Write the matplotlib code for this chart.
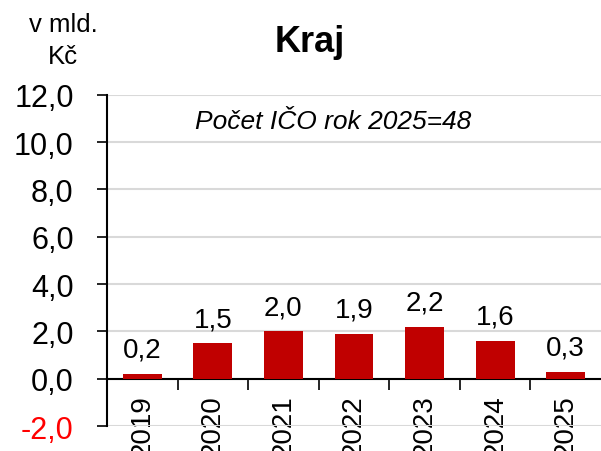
import numpy as np
from matplotlib import pyplot as plt

years = ["2019", "2020", "2021", "2022", "2023", "2024", "2025"]
values = [0.2, 1.5, 2.0, 1.9, 2.2, 1.6, 0.3]
y_ticks = [-2, 0, 2, 4, 6, 8, 10, 12]

plt.rcParams["font.family"] = ["Liberation Sans", "DejaVu Sans"]

fig = plt.figure(figsize=(6.01, 4.52), dpi=100)
ax = fig.add_axes([0.178, 0.055, 0.822, 0.733])

x = np.arange(len(years))
bars = ax.bar(x, values, width=0.55, color="#c00000", zorder=3)

for xi, v in zip(x, values):
    ax.annotate(f"{v:.1f}".replace(".", ","), (xi, v), xytext=(0, 8),
                textcoords="offset points", ha="center", va="bottom", fontsize=20)

ax.set_xlim(-0.5, len(years) - 0.5)
ax.set_ylim(-2, 12)
ax.set_yticks(y_ticks)
ax.set_yticklabels([f"{t:.1f}".replace(".", ",") for t in y_ticks], fontsize=22)
ax.get_yticklabels()[0].set_color("red")
ax.yaxis.grid(True, color="#d9d9d9", linewidth=1.5, zorder=0)
ax.tick_params(axis="y", direction="out", length=7, width=1.2, pad=17)

ax.spines["bottom"].set_position(("data", 0))
ax.spines["bottom"].set_linewidth(1.5)
ax.spines["left"].set_linewidth(1.5)
ax.spines["top"].set_visible(False)
ax.spines["right"].set_visible(False)

ax.set_xticks(x)
ax.set_xticklabels(years, rotation=90, fontsize=20)
ax.tick_params(axis="x", which="major", length=0, pad=11)
ax.set_xticks(x[:-1] + 0.5, minor=True)
ax.tick_params(axis="x", which="minor", direction="out", length=8, width=1.2)

fig.text(0.515, 0.905, "Kraj", fontsize=26, fontweight="bold", ha="center", va="center")
fig.text(0.105, 0.945, "v mld.", fontsize=18.5, ha="center", va="center")
fig.text(0.105, 0.874, "Kč", fontsize=18.5, ha="center", va="center")
ax.text(0.458, 0.92, "Počet IČO rok 2025=48", transform=ax.transAxes, fontsize=19,
        style="italic", ha="center", va="center")

fig.savefig("out.png", dpi=100)
